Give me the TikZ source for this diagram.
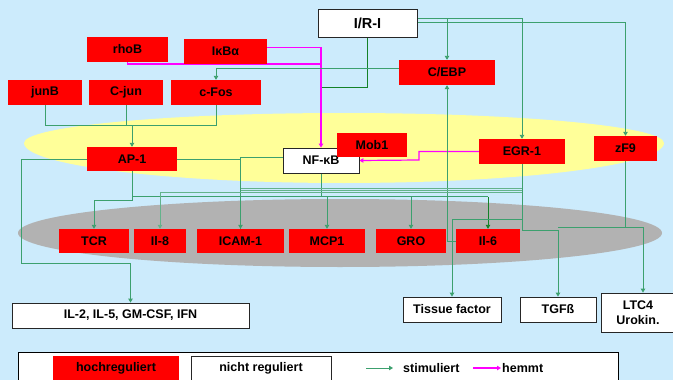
\documentclass[tikz,border=0pt]{standalone}
\usepackage{fontspec}
\setmainfont{Liberation Sans}
\usetikzlibrary{arrows.meta,shadows}
\definecolor{bgblue}{RGB}{204,235,252}
\definecolor{ylw}{RGB}{255,255,153}
\definecolor{gry}{RGB}{178,178,178}
\definecolor{grn}{RGB}{60,160,110}
\definecolor{dgrn}{RGB}{20,130,40}
\definecolor{mag}{RGB}{255,0,255}
\pgfdeclarelayer{bgl}
\pgfdeclarelayer{lines}
\pgfsetlayers{bgl,lines,main}
\begin{document}
\begin{tikzpicture}[x=1pt,y=-1pt,
  box/.style={inner sep=0pt, align=center, font=\bfseries\fontsize{12.5}{14}\selectfont, minimum height=25pt},
  rbox/.style={box, fill=red},
  wbox/.style={box, fill=white, draw=black!85, line width=0.8pt},
  shbox/.style={wbox, drop shadow={shadow xshift=1.3pt, shadow yshift=-1.3pt, fill=black!45, opacity=1}},
  arr/.style={-{Triangle[length=4pt,width=4.5pt]}},
  g/.style={draw=grn, line width=0.9pt},
  gl/.style={draw=grn!80, line width=0.9pt},
  dg/.style={draw=dgrn, line width=0.9pt},
  mg/.style={draw=mag, line width=1.2pt},
  lbl/.style={inner sep=0pt, font=\bfseries\fontsize{12.5}{14}\selectfont}
]
\useasboundingbox (0,0) rectangle (673,380);
\clip (0,0) rectangle (673,380);
\begin{pgfonlayer}{bgl}
\fill[bgblue] (0,0) rectangle (673,380);
\fill[ylw] (24,143) arc[start angle=180,end angle=0,x radius=320pt,y radius=30pt]
  arc[start angle=0,end angle=-180,x radius=320pt,y radius=40pt] -- cycle;
\fill[gry] (340,233) ellipse [x radius=322pt, y radius=34pt];
\end{pgfonlayer}

% nodes
\node[shbox, minimum width=99pt, minimum height=28pt, font=\bfseries\fontsize{14.5}{16}\selectfont] (irI) at (367.5,23) {I/R-I};
\node[rbox, minimum width=81pt] (rhob) at (127.5,49.5) {rhoB};
\node[rbox, minimum width=83pt] (ikb) at (225.5,51.5) {IκBα};
\node[rbox, minimum width=74pt] (junb) at (45,92.5) {junB};
\node[rbox, minimum width=74pt] (cjun) at (126,92.5) {C-jun};
\node[rbox, minimum width=90pt] (cfos) at (216,92.5) {c-Fos};
\node[rbox, minimum width=96pt] (cebp) at (447,72.5) {C/EBP};
\node[rbox, minimum width=90pt, minimum height=24pt] (ap1) at (132,159) {AP-1};
\node[shbox, minimum width=76pt] (nfkb) at (321,160.5) {NF-κB};
\node[rbox, minimum width=70pt, minimum height=24pt] (mob1) at (372,145) {Mob1};
\node[rbox, minimum width=86pt] (egr) at (522,151.5) {EGR-1};
\node[rbox, minimum width=63pt] (zf9) at (625.5,148.5) {zF9};
\node[rbox, minimum width=70pt, minimum height=24pt] (tcr) at (94,241) {TCR};
\node[rbox, minimum width=52pt, minimum height=24pt] (il8) at (160,241) {Il-8};
\node[rbox, minimum width=87pt, minimum height=24pt] (icam) at (240.5,241) {ICAM-1};
\node[rbox, minimum width=76pt, minimum height=24pt] (mcp) at (327,241) {MCP1};
\node[rbox, minimum width=70pt, minimum height=24pt] (gro) at (411,241) {GRO};
\node[rbox, minimum width=64pt, minimum height=24pt] (il6) at (488,241) {Il-6};
\node[wbox, minimum width=237pt] (il2) at (130.5,315.5) {IL-2, IL-5, GM-CSF, IFN};
\node[wbox, minimum width=98pt] (tis) at (452,309.5) {Tissue factor};
\node[wbox, minimum width=76pt] (tgf) at (558,309.5) {TGFß};
\node[wbox, minimum width=74pt, minimum height=39pt, font=\bfseries\fontsize{12.5}{15}\selectfont] (ltc) at (638,312.5) {LTC4\\Urokin.};

% legend
\draw[draw=black, line width=0.8pt, fill=white] (18,352) rectangle (618,390);
\node[rbox, minimum width=126pt, minimum height=24pt] (hoch) at (116,368) {hochreguliert};
\node[wbox, minimum width=140pt, minimum height=24pt] (nicht) at (261,368) {nicht reguliert};
\coordinate (s1) at (366,368);
\coordinate (s2) at (393,368);
\node[lbl, anchor=west] (stim) at (403,368) {stimuliert};
\coordinate (h1) at (473,368);
\coordinate (h2) at (501,368);
\node[lbl, anchor=west] (hem) at (502,368) {hemmt};
\draw[g, arr] (s1) -- (s2);
\draw[mg, arr] (h1) -- (h2);

% connectors
\begin{pgfonlayer}{lines}
% I/R-I outputs
\draw[g, arr] ([yshift=5pt]irI.east) -| (cebp.north);
\draw[g, arr] ([yshift=5pt]irI.east) -| (egr.north);
\draw[g, arr] ([yshift=1pt]irI.east) -| (zf9.north);
\draw[dg] ([yshift=-5pt]irI.center) |- (nfkb.north |- 0,87);
% inhibitors of NF-kB
\draw[mg, arr] ([yshift=4pt]ikb.east) -| (nfkb.north);
\draw[mg] (rhob.south) |- (nfkb.north |- 0,64);
\draw[mg, arr] (egr.west) -| (419,160) -- (nfkb.east);
% C/EBP -> c-Fos
\draw[g, arr] ([yshift=4.5pt]cebp.west) -| (cfos.north);
% Il-6 -> C/EBP
\draw[g, arr] (il6.west) -| (cebp.south);
% junB, C-jun, c-Fos -> AP-1
\coordinate (b1) at (132,125);
\draw[g] (junb.south) |- (b1);
\draw[g] (cfos.south) |- (b1);
\draw[g] (cjun.south) -- (cjun.south |- b1);
\draw[g, arr] (b1) -- (ap1.north);
% AP-1 outputs
\draw[g, arr] (ap1.west) -| (21,263) -| (il2.north);
\draw[g, arr] (ap1.east) -| (icam.north);
\draw[g, arr] (ap1.south) |- (tcr.north |- 0,200) -- (tcr.north);
\draw[g] (ap1.south |- 0,196.5) -- (nfkb.south |- 0,196.5);
% NF-kB outputs
\draw[g] ([yshift=3.5pt]nfkb.west) -| (icam.north);
\draw[g] (nfkb.south) |- (il6.north |- 0,196.5);
\draw[g, arr] (mcp.north |- 0,196.5) -- (mcp.north);
\draw[g, arr] (gro.north |- 0,196.5) -- (gro.north);
\draw[dg, arr] (il6.north |- 0,196.5) -- (il6.north);
% EGR-1 outputs
\draw[g] (egr.south) -- (egr.south |- 0,230);
\draw[gl] (egr.south |- 0,188) -- (icam.north |- 0,188);
\draw[gl] (egr.south |- 0,190.5) -- (icam.north |- 0,190.5);
\draw[gl, arr] (egr.south |- 0,192.5) -| (il8.north);
\draw[g, arr] (egr.south |- 0,219) -| (tis.north);
\draw[g, arr] (egr.south |- 0,230) -| (tgf.north);
% zF9 outputs
\draw[g, arr] (zf9.south) |- ([xshift=5pt]ltc.north |- 0,227) -- ([xshift=5pt]ltc.north);
\draw[g] (zf9.south |- 0,227) -- (tgf.north |- 0,227);
\end{pgfonlayer}
\end{tikzpicture}
\end{document}
